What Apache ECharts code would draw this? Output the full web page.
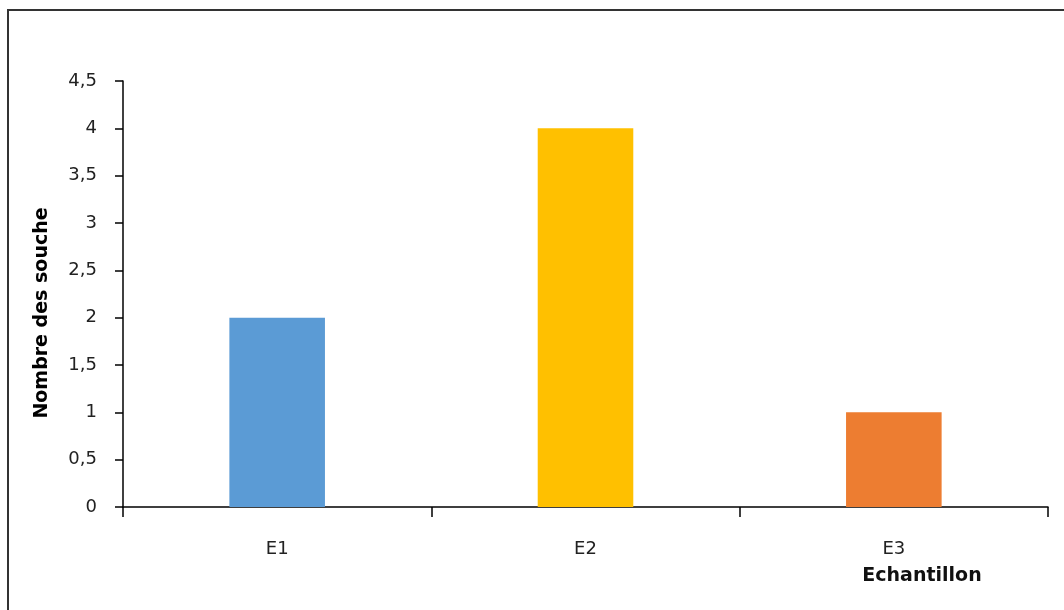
<!DOCTYPE html>
<html>
<head>
<meta charset="utf-8">
<script src="https://cdn.jsdelivr.net/npm/echarts@6/dist/echarts.min.js"></script>
<style>
  html, body { margin: 0; padding: 0; background: #fff; }
  #main { width: 1064px; height: 610px; }
</style>
</head>
<body>
<div id="main"></div>
<script>
var categories = ['E1', 'E2', 'E3'];
var values = [2, 4, 1];
var barColors = ['#5B9BD5', '#FFC000', '#ED7D31'];

var chart = echarts.init(document.getElementById('main'));
var option = {
    backgroundColor: '#fff',
    animation: false,
    graphic: [
        {
            type: 'rect',
            shape: { x: 8, y: 10, width: 1200, height: 800 },
            style: { fill: 'none', stroke: '#333', lineWidth: 2 }
        },
        {
            type: 'text',
            x: 42, y: 313,
            rotation: Math.PI / 2,
            style: {
                text: 'Nombre des souche',
                font: 'bold 19px "DejaVu Sans"',
                fill: '#000',
                align: 'center',
                verticalAlign: 'middle'
            }
        },
        {
            type: 'text',
            x: 922, y: 576,
            style: {
                text: 'Echantillon',
                font: 'bold 19px "DejaVu Sans"',
                fill: '#111',
                align: 'center',
                verticalAlign: 'middle'
            }
        }
    ],
    grid: { left: 123, right: 16, top: 81, bottom: 103 },
    xAxis: {
        type: 'category',
        data: categories,
        axisLine: { lineStyle: { color: '#000', width: 1.5 } },
        axisTick: { show: true, length: 10, lineStyle: { color: '#000', width: 1.5 } },
        axisLabel: { margin: 33, color: '#222', fontSize: 18, fontFamily: 'DejaVu Sans' }
    },
    yAxis: {
        type: 'value',
        min: 0,
        max: 4.5,
        interval: 0.5,
        splitLine: { show: false },
        axisLine: { show: true, lineStyle: { color: '#000', width: 1.5 } },
        axisTick: { show: true, length: 8, lineStyle: { color: '#000', width: 1.5 } },
        axisLabel: {
            margin: 26,
            color: '#222',
            fontSize: 18,
            fontFamily: 'DejaVu Sans',
            formatter: function (v) { return String(v).replace('.', ','); }
        }
    },
    series: [{
        type: 'bar',
        barWidth: '31%',
        data: values.map(function (v, i) {
            return { value: v, itemStyle: { color: barColors[i] } };
        })
    }]
};
chart.setOption(option);
window.addEventListener('resize', () => chart.resize());
</script>
</body>
</html>
